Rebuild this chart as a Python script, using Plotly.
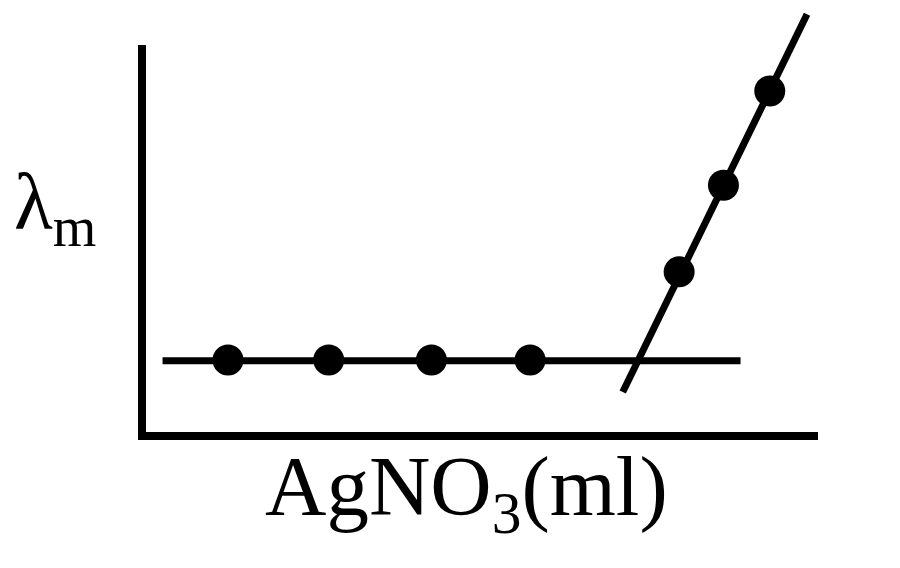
import plotly.graph_objects as go

# Data (AgNO3 volume in ml vs molar conductivity, arbitrary units)
flat_x = [1.0, 2.0, 3.02, 4.0]
flat_y = [1.0, 1.0, 1.0, 1.0]
rise_x = [5.48, 5.92, 6.38]
rise_y = [2.16, 3.30, 4.54]

# Fitted lines (end points)
fit_flat_x = [0.35, 6.09]
fit_flat_y = [0.99, 0.99]
fit_rise_x = [4.92, 6.75]
fit_rise_y = [0.58, 5.55]

x_title = "AgNO<sub>3</sub>(ml)"
y_title = "λ<sub>m</sub>"

OFF = 8  # page body margin
W, H = 900 - OFF, 568 - OFF
FONT = "Liberation Serif, Times New Roman, serif"

fig = go.Figure()

# invisible trace to keep the frame subplot (x, y) alive
fig.add_trace(go.Scatter(x=[None], y=[None], xaxis="x", yaxis="y",
                         showlegend=False, hoverinfo="skip"))

fig.add_trace(go.Scatter(x=fit_flat_x, y=fit_flat_y, mode="lines",
                         line=dict(color="black", width=7),
                         xaxis="x2", yaxis="y2", showlegend=False))
fig.add_trace(go.Scatter(x=fit_rise_x, y=fit_rise_y, mode="lines",
                         line=dict(color="black", width=7),
                         xaxis="x2", yaxis="y2", showlegend=False))
fig.add_trace(go.Scatter(x=flat_x, y=flat_y, mode="markers",
                         marker=dict(color="black", size=31),
                         xaxis="x2", yaxis="y2", showlegend=False))
fig.add_trace(go.Scatter(x=rise_x, y=rise_y, mode="markers",
                         marker=dict(color="black", size=31),
                         xaxis="x2", yaxis="y2", showlegend=False))

hidden = dict(showline=False, showgrid=False, zeroline=False,
              showticklabels=False, ticks="")

fig.update_layout(
    width=W, height=H,
    margin=dict(l=0, r=0, t=0, b=0),
    paper_bgcolor="white", plot_bgcolor="rgba(0,0,0,0)",
    showlegend=False,
    # frame axes (the L-shaped axis lines)
    xaxis=dict(domain=[(146 - OFF) / W, (818 - OFF) / W], range=[0, 1], anchor="y",
               showline=True, linewidth=8, linecolor="black",
               showgrid=False, zeroline=False, showticklabels=False, ticks=""),
    yaxis=dict(domain=[1 - (432 - OFF) / H, 1 - (45 - OFF) / H], range=[0, 1], anchor="x",
               showline=True, linewidth=8, linecolor="black",
               showgrid=False, zeroline=False, showticklabels=False, ticks=""),
    # data axes covering the whole figure
    xaxis2=dict(domain=[0, 1], range=[1 + (OFF - 228) / 100.7, 1 + 672 / 100.7],
                anchor="y2", **hidden),
    yaxis2=dict(domain=[0, 1], range=[(436 - 568) / 76, (436 - OFF) / 76],
                anchor="x2", **hidden),
    annotations=[
        dict(text=y_title, xref="paper", yref="paper",
             x=(12 - OFF) / W, y=1 - (208 - OFF) / H, xanchor="left", yanchor="middle",
             showarrow=False, font=dict(family=FONT, size=80, color="black")),
        dict(text=x_title, xref="paper", yref="paper",
             x=(466 - OFF) / W, y=1 - (492 - OFF) / H, xanchor="center", yanchor="middle",
             showarrow=False, font=dict(family=FONT, size=85, color="black")),
    ],
)

fig.write_html("out.html")
